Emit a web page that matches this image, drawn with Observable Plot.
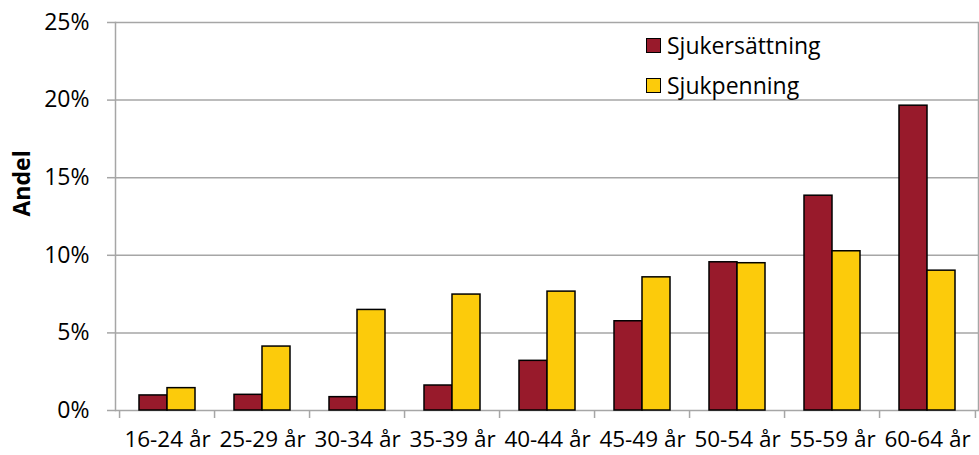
<!DOCTYPE html>
<html><head><meta charset="utf-8">
<script src="https://cdn.jsdelivr.net/npm/d3@7"></script>
<script src="https://cdn.jsdelivr.net/npm/@observablehq/plot@0.6"></script>
<style>
body{margin:0;background:#fff;}
#wrap{position:relative;width:979px;height:455px;font-family:"Open Sans",sans-serif;}
.legend{position:absolute;left:646px;top:25.5px;font-size:23px;color:#000;line-height:1;}
.item{display:flex;align-items:center;height:40px;white-space:nowrap;}
.sw{width:13px;height:13px;border:1.5px solid #000;margin-right:6px;}
</style></head><body><div id="wrap"></div>
<script>
const categories = ["16-24 år","25-29 år","30-34 år","35-39 år","40-44 år","45-49 år","50-54 år","55-59 år","60-64 år"];
const sjukersattning = [0.97,1.01,0.86,1.61,3.2,5.75,9.55,13.84,19.64];
const sjukpenning = [1.44,4.12,6.48,7.47,7.66,8.58,9.49,10.26,9.01];
const yTicks = [0,5,10,15,20,25];
const seriesNames = ["Sjukersättning","Sjukpenning"];
const colors = ["#981a2b","#fccb0b"];

const W=979,H=455,mL=115,mR=1,mT=22,mB=45;
const step=(W-mL-mR)/categories.length;
const barW=28;
const grid="#a6a6a6";
const dataR=categories.map((c,i)=>({cat:c,v:sjukersattning[i]}));
const dataP=categories.map((c,i)=>({cat:c,v:sjukpenning[i]}));

const chart=Plot.plot({
  width:W,height:H,marginLeft:mL,marginRight:mR,marginTop:mT,marginBottom:mB,
  style:{fontFamily:"Open Sans",fontSize:"23px",color:"#000",background:"#fff"},
  x:{domain:categories,paddingInner:1-barW/step,paddingOuter:(1-barW/step)/2,label:null},
  y:{domain:[0,25],label:null},
  marks:[
    Plot.gridY(yTicks,{stroke:grid,strokeOpacity:1,strokeWidth:1.5}),
    Plot.axisY(yTicks,{tickSize:8,tickPadding:18,stroke:grid,strokeWidth:1.5,fill:"#000",fontSize:23,tickFormat:d=>d+"%",label:null}),
    Plot.frame({anchor:"left",stroke:grid,strokeWidth:1.5}),
    Plot.frame({anchor:"right",stroke:grid,strokeWidth:1.5}),
    Plot.axisX({tickSize:0,tickPadding:21,fill:"#000",fontSize:22.5,label:null}),
    Plot.axisX({tickSize:8,text:null,dx:-step/2,stroke:grid,strokeWidth:1.5,label:null}),
    Plot.axisX([categories[categories.length-1]],{tickSize:8,text:null,dx:step/2,stroke:grid,strokeWidth:1.5,label:null}),
    Plot.barY(dataR,{x:"cat",y:"v",fill:colors[0],stroke:"#000",strokeWidth:1.5,dx:-barW/2}),
    Plot.barY(dataP,{x:"cat",y:"v",fill:colors[1],stroke:"#000",strokeWidth:1.5,dx:barW/2}),
    Plot.text(["Andel"],{frameAnchor:"left",dx:-93,rotate:-90,fontWeight:"bold",fontSize:23,fill:"#000"})
  ]
});
const wrap=document.getElementById("wrap");
wrap.appendChild(chart);
const leg=document.createElement("div");
leg.className="legend";
seriesNames.forEach((n,i)=>{
  const it=document.createElement("div");it.className="item";
  const sw=document.createElement("span");sw.className="sw";sw.style.background=colors[i];
  const t=document.createElement("span");t.textContent=n;
  it.appendChild(sw);it.appendChild(t);leg.appendChild(it);
});
wrap.appendChild(leg);
</script></body></html>
